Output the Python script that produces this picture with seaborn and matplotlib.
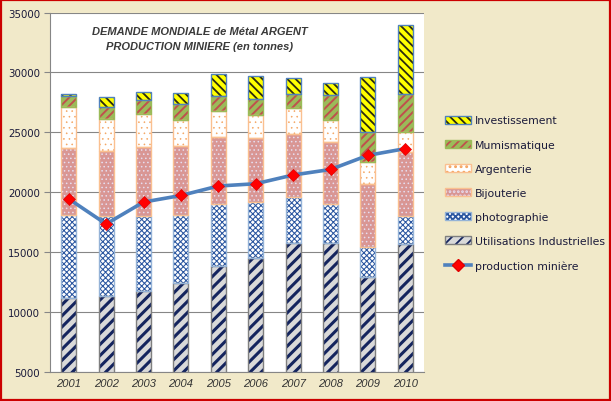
import matplotlib
matplotlib.use("Agg")
import matplotlib.pyplot as plt
import seaborn as sns
import numpy as np
from matplotlib.patches import Patch, Rectangle
from matplotlib.lines import Line2D

# Données (tonnes)
annees = [2001, 2002, 2003, 2004, 2005, 2006, 2007, 2008, 2009, 2010]
industrielles = [11200, 11380, 11800, 12400, 13880, 14550, 15750, 15800, 12960, 15640]
photographie = [6860, 6630, 6210, 5740, 5100, 4630, 3870, 3260, 2510, 2370]
bijouterie = [5640, 5430, 5770, 5720, 5630, 5350, 5240, 5130, 5240, 5350]
argenterie = [3420, 2640, 2730, 2140, 2140, 1890, 2160, 1810, 1810, 1670]
mumismatique = [920, 1040, 1170, 1370, 1310, 1370, 1220, 2090, 2510, 3200]
investissement = [190, 840, 700, 920, 1780, 1890, 1290, 1000, 4560, 5710]
production = [19450, 17350, 19180, 19730, 20520, 20710, 21440, 21900, 23080, 23640]

# (label, valeurs, fond, couleur hachure, hachure, épaisseur hachure, bordure)
series = [
    ('Utilisations Industrielles', industrielles, '#D9D9D9', '#14245E', '///', 2.2, '#7F7F7F'),
    ('photographie', photographie, '#FFFFFF', '#2A56A0', 'xxxxxx', 0.75, '#95B3D7'),
    ('Bijouterie', bijouterie, '#D99694', '#E6DDF0', '....', 0.6, '#FAC090'),
    ('Argenterie', argenterie, '#FFFFFF', '#F4A460', '...', 0.4, '#FAC090'),
    ('Mumismatique', mumismatique, '#9BBB59', '#C0504D', '////', 1.4, '#9BBB59'),
    ('Investissement', investissement, '#FFFF00', '#2A2A10', '\\\\\\\\', 1.3, '#4F81BD'),
]

plt.rcParams['hatch.linewidth'] = 1.3

fig = plt.figure(figsize=(6.11, 4.02), dpi=100)
fig.patch.set_facecolor('#F1E9C9')
ax = fig.add_axes([50/611, 1 - 373/402, 374/611, 359.5/402])
ax.set_facecolor('white')


def set_hlw(p, lw):
    if hasattr(p, 'set_hatch_linewidth'):
        p.set_hatch_linewidth(lw)


handles = {}
bas = np.zeros(len(annees))
for label, vals, fond, hcol, hatch, hlw, bord in series:
    n0 = len(ax.patches)
    sns.barplot(x=annees, y=vals, bottom=bas, width=0.4, color=fond, saturation=1,
                edgecolor=hcol, linewidth=0, hatch=hatch, errorbar=None, ax=ax, zorder=2)
    for p in ax.patches[n0:]:
        set_hlw(p, hlw)
    sns.barplot(x=annees, y=vals, bottom=bas, width=0.4, color=bord, fill=False,
                linewidth=1, errorbar=None, ax=ax, zorder=3)
    bas = bas + np.array(vals)
    hp = Patch(facecolor=fond, edgecolor=hcol, hatch=hatch, linewidth=0)
    set_hlw(hp, hlw)
    handles[label] = (hp, Patch(facecolor='none', edgecolor=bord, linewidth=1))

sns.pointplot(x=annees, y=production, color='#4F81BD', markers='D', errorbar=None,
              linewidth=2.6, markersize=6.5, markerfacecolor='#FF0000',
              markeredgecolor='#E00000', markeredgewidth=0.5, zorder=5, ax=ax)

ax.set_ylim(5000, 35000)
ax.set_xlim(-0.5, 9.5)
ax.set_yticks(range(5000, 35001, 5000))
ax.set_xlabel('')
ax.set_ylabel('')
ax.set_axisbelow(True)
ax.yaxis.grid(True, color='#868686', linewidth=0.8)
for s in ['top', 'right']:
    ax.spines[s].set_visible(False)
for s in ['left', 'bottom']:
    ax.spines[s].set_color('#868686')
    ax.spines[s].set_linewidth(0.8)
ax.tick_params(axis='y', length=4, color='#868686', labelsize=7.4,
               labelcolor='#1A1A3A', pad=3)
ax.tick_params(axis='x', length=0, labelsize=8, labelcolor='#333333', pad=4)
for t in ax.get_xticklabels():
    t.set_fontstyle('italic')
    t.set_family('Liberation Sans')

# Titre
fig.text(0.3265, 1 - 32/402, 'DEMANDE MONDIALE de Métal ARGENT', ha='center', va='center',
         fontsize=8, fontweight='bold', fontstyle='italic', family='Liberation Sans',
         color='#3A3A3A')
fig.text(0.3265, 1 - 47/402, 'PRODUCTION MINIERE (en tonnes)', ha='center', va='center',
         fontsize=8, fontweight='bold', fontstyle='italic', family='Liberation Sans',
         color='#3A3A3A')

# Légende
ordre = ['Investissement', 'Mumismatique', 'Argenterie', 'Bijouterie',
         'photographie', 'Utilisations Industrielles']
leg_h = [handles[k] for k in ordre]
leg_h.append(Line2D([], [], color='#4F81BD', linewidth=2.6, marker='D', markersize=6.5,
                    markerfacecolor='#FF0000', markeredgecolor='#E00000'))
leg_l = ordre + ['production minière']
leg = fig.legend(leg_h, leg_l, loc='upper left', bbox_to_anchor=(445/611, 1 - 116.5/402),
                 frameon=False, handlelength=2.4, handleheight=0.7,
                 handletextpad=0.4, labelspacing=1.3, borderpad=0, borderaxespad=0,
                 prop={'family': 'DejaVu Sans', 'size': 7.8})
for t in leg.get_texts():
    t.set_color('#1A1A3A')

# Cadre rouge
fig.patches.append(Rectangle((0.001, 0.002), 0.997, 0.996, transform=fig.transFigure,
                             fill=False, edgecolor='#CC0000', linewidth=1.6))

fig.savefig('out.png', dpi=100, facecolor=fig.get_facecolor())
